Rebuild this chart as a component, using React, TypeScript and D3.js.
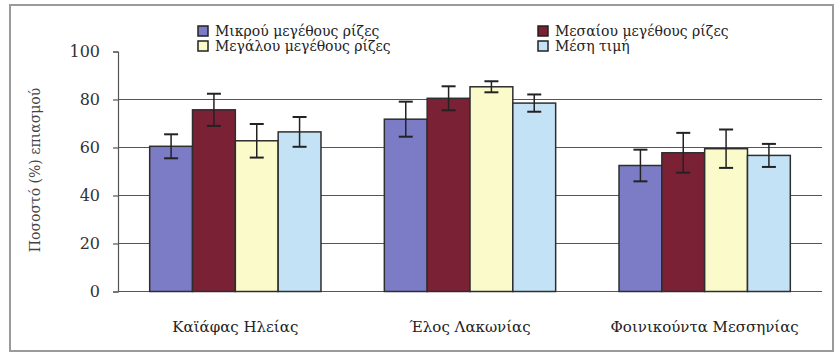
import React, { useEffect, useRef } from 'react';
import * as d3 from 'd3';

const categories = ['Καϊάφας Ηλείας', 'Έλος Λακωνίας', 'Φοινικούντα Μεσσηνίας'];
const seriesNames = ['Μικρού μεγέθους ρίζες', 'Μεσαίου μεγέθους ρίζες', 'Μεγάλου μεγέθους ρίζες', 'Μέση τιμή'];
const seriesColors = ['#7c7cc6', '#7a2136', '#fafacb', '#c4e2f6'];

// values per series, one entry per category
const smallRoots = [60.5, 71.8, 52.5];
const mediumRoots = [75.7, 80.5, 57.8];
const largeRoots = [62.8, 85.3, 59.5];
const meanValue = [66.5, 78.5, 56.7];

const smallErr = [5, 7.3, 6.6];
const mediumErr = [6.7, 5, 8.3];
const largeErr = [7, 2.3, 8];
const meanErr = [6.2, 3.6, 4.8];

const yTicks = [0, 20, 40, 60, 80, 100];
const yGrid = [20, 40, 60, 80];
const yTitle = 'Ποσοστό (%) επιασμού';

const W = 839;
const H = 354;
const SERIF = "'DejaVu Serif', 'Liberation Serif', serif";

const App = () => {
    const ref = useRef(null);

    useEffect(() => {
        drawChart();
    }, []);

    function drawChart() {
        const svg = d3.select(ref.current);
        svg.selectAll('*').remove();

        const values = [smallRoots, mediumRoots, largeRoots, meanValue];
        const errors = [smallErr, mediumErr, largeErr, meanErr];

        const plot = { left: 118, right: 822, top: 51.5, bottom: 291.5 };

        const x0 = d3
            .scaleBand()
            .domain(categories)
            .range([plot.left, plot.right])
            .paddingInner(0.27)
            .paddingOuter(0.135);

        const x1 = d3
            .scaleBand()
            .domain(seriesNames)
            .range([0, x0.bandwidth()]);

        const y = d3
            .scaleLinear()
            .domain([0, 100])
            .range([plot.bottom, plot.top]);

        // outer frame
        svg.append('rect')
            .attr('x', 10)
            .attr('y', 5)
            .attr('width', 823)
            .attr('height', 346)
            .attr('fill', '#fff')
            .attr('stroke', '#9a9a9a')
            .attr('stroke-width', 2);

        // gridlines
        svg.append('g')
            .selectAll('line')
            .data(yGrid)
            .enter()
            .append('line')
            .attr('x1', plot.left)
            .attr('x2', plot.right)
            .attr('y1', (d) => y(d))
            .attr('y2', (d) => y(d))
            .attr('stroke', '#555')
            .attr('stroke-width', 1.2);

        // y axis
        const yAxis = d3.axisLeft(y).tickValues(yTicks).tickSize(5).tickPadding(13);
        const gy = svg.append('g')
            .attr('transform', `translate(${plot.left},0)`)
            .call(yAxis);
        gy.attr('font-family', SERIF).attr('font-size', 16);
        gy.select('.domain').attr('stroke', '#555').attr('stroke-width', 1.2);
        gy.selectAll('.tick line').attr('stroke', '#555').attr('stroke-width', 1.2);
        gy.selectAll('.tick text').attr('fill', '#333');

        // baseline
        svg.append('line')
            .attr('x1', plot.left)
            .attr('x2', plot.right)
            .attr('y1', y(0))
            .attr('y2', y(0))
            .attr('stroke', '#555')
            .attr('stroke-width', 1.2);

        // bars
        const groups = svg.append('g')
            .selectAll('g')
            .data(categories)
            .enter()
            .append('g')
            .attr('transform', (d) => `translate(${x0(d)},0)`);

        const rows = (d, ci) => seriesNames.map((s, si) => ({ s, si, v: values[si][ci], e: errors[si][ci] }));

        groups.selectAll('rect')
            .data(rows)
            .enter()
            .append('rect')
            .attr('x', (d) => x1(d.s))
            .attr('y', (d) => y(d.v))
            .attr('width', x1.bandwidth())
            .attr('height', (d) => y(0) - y(d.v))
            .attr('fill', (d) => seriesColors[d.si])
            .attr('stroke', '#2e2e2e')
            .attr('stroke-width', 1.5);

        // error bars
        const err = groups.selectAll('g.err')
            .data(rows)
            .enter()
            .append('g')
            .attr('class', 'err')
            .attr('transform', (d) => `translate(${x1(d.s) + x1.bandwidth() / 2},0)`);

        err.append('line')
            .attr('x1', 0)
            .attr('x2', 0)
            .attr('y1', (d) => y(d.v + d.e))
            .attr('y2', (d) => y(d.v - d.e))
            .attr('stroke', '#222')
            .attr('stroke-width', 1.5);
        err.append('line')
            .attr('x1', -7)
            .attr('x2', 7)
            .attr('y1', (d) => y(d.v + d.e))
            .attr('y2', (d) => y(d.v + d.e))
            .attr('stroke', '#222')
            .attr('stroke-width', 2);
        err.append('line')
            .attr('x1', -7)
            .attr('x2', 7)
            .attr('y1', (d) => y(d.v - d.e))
            .attr('y2', (d) => y(d.v - d.e))
            .attr('stroke', '#222')
            .attr('stroke-width', 2);

        // category labels
        svg.append('g')
            .selectAll('text')
            .data(categories)
            .enter()
            .append('text')
            .attr('x', (d) => x0(d) + x0.bandwidth() / 2)
            .attr('y', 332)
            .attr('text-anchor', 'middle')
            .attr('font-family', SERIF)
            .attr('font-size', 15)
            .attr('fill', '#222')
            .text((d) => d);

        // y title
        svg.append('text')
            .attr('transform', `translate(40, 170) rotate(-90)`)
            .attr('text-anchor', 'middle')
            .attr('font-family', SERIF)
            .attr('font-size', 14)
            .attr('fill', '#444')
            .text(yTitle);

        // legend
        const legendPos = [
            { x: 198, y: 31 },
            { x: 538, y: 31 },
            { x: 198, y: 46 },
            { x: 538, y: 46 },
        ];
        const legend = svg.append('g')
            .selectAll('g')
            .data(seriesNames)
            .enter()
            .append('g')
            .attr('transform', (d, i) => `translate(${legendPos[i].x},${legendPos[i].y})`);
        legend.append('rect')
            .attr('x', 0)
            .attr('y', -5)
            .attr('width', 10)
            .attr('height', 10)
            .attr('fill', (d, i) => seriesColors[i])
            .attr('stroke', '#222')
            .attr('stroke-width', 1.5);
        legend.append('text')
            .attr('x', 17)
            .attr('y', 4.5)
            .attr('font-family', SERIF)
            .attr('font-size', 14)
            .attr('fill', '#222')
            .text((d) => d);
    }

    return (
        <svg
            ref={ref}
            width={W}
            height={H}
            style={{ position: 'absolute', left: 0, top: 0, display: 'block' }}
        />
    );
};

export default App;
